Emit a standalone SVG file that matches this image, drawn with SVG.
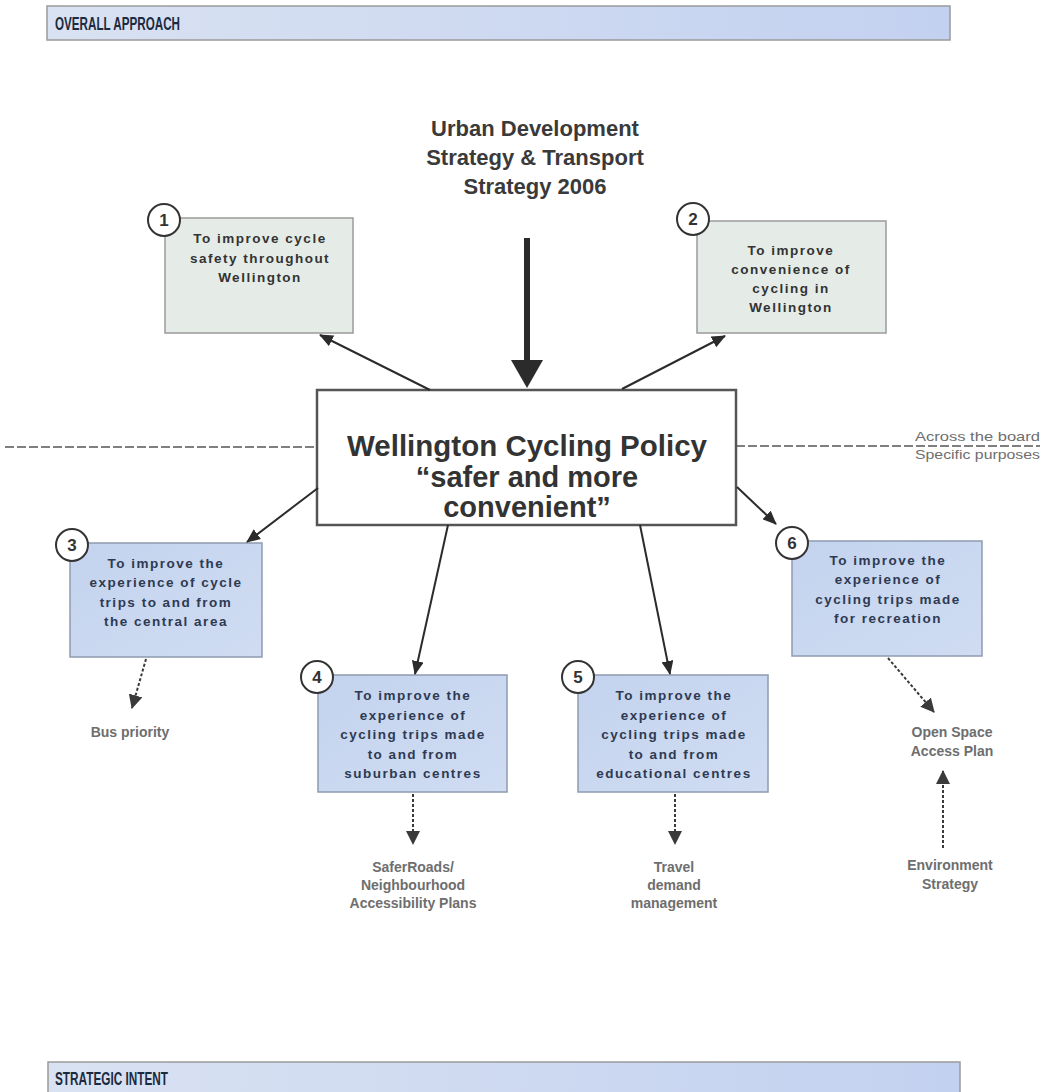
<svg xmlns="http://www.w3.org/2000/svg" width="1046" height="1092" viewBox="0 0 1046 1092">
<defs>
<linearGradient id="hdr" x1="0" y1="0" x2="1" y2="0">
<stop offset="0" stop-color="#d9e2f2"/>
<stop offset="1" stop-color="#c3d1f0"/>
</linearGradient>
<linearGradient id="blue" x1="0" y1="0" x2="1" y2="1">
<stop offset="0" stop-color="#c4d3ee"/>
<stop offset="1" stop-color="#cfdcf2"/>
</linearGradient>
<marker id="ah" viewBox="0 0 14 12" refX="13" refY="6" markerWidth="14" markerHeight="12" markerUnits="userSpaceOnUse" orient="auto">
<path d="M0,0 L14,6 L0,12 z" fill="#2b2b2b"/>
</marker>
<marker id="ahd" viewBox="0 0 14 14" refX="13" refY="7" markerWidth="14" markerHeight="14" markerUnits="userSpaceOnUse" orient="auto">
<path d="M0,0 L14,7 L0,14 z" fill="#3a3a3a"/>
</marker>
</defs>
<style>
.hdr{fill:url(#hdr);stroke:#9a9a9a;stroke-width:1.5}
.hdrt{font-family:"Liberation Sans",Arial,sans-serif;font-weight:bold;font-size:18px;fill:#1c2a40}
.title{font-family:"Liberation Sans",Arial,sans-serif;font-weight:bold;font-size:22px;fill:#3a3a3a;text-anchor:middle}
.main{fill:#ffffff;stroke:#555;stroke-width:2.5}
.maint{font-family:"Liberation Sans",Arial,sans-serif;font-weight:bold;font-size:29px;fill:#333;text-anchor:middle}
.gbox{fill:#e5ece7;stroke:#9a9a9a;stroke-width:1.5}
.bbox{fill:url(#blue);stroke:#8e9bb0;stroke-width:1.5}
.bt{font-family:"Liberation Sans",Arial,sans-serif;font-weight:bold;font-size:13.5px;letter-spacing:1.5px;fill:#333;text-anchor:middle}
.bbt{font-family:"Liberation Sans",Arial,sans-serif;font-weight:bold;font-size:13.5px;letter-spacing:1.5px;fill:#2e3a52;text-anchor:middle}
.num{fill:#fff;stroke:#333;stroke-width:2}
.numt{font-family:"Liberation Sans",Arial,sans-serif;font-weight:bold;font-size:17px;fill:#333;text-anchor:middle}
.lbl{font-family:"Liberation Sans",Arial,sans-serif;font-weight:bold;font-size:14px;fill:#6e6e6e;text-anchor:middle}
.side{font-family:"Liberation Sans",Arial,sans-serif;font-size:13px;fill:#6e6e6e;text-anchor:end}
.conn{stroke:#2b2b2b;stroke-width:2;fill:none}
.dash{stroke:#3a3a3a;stroke-width:2;stroke-dasharray:3 2;fill:none}
.sep{stroke:#555;stroke-width:1.5;stroke-dasharray:9 3;fill:none}
</style>

<g id="header-overall">
<rect class="hdr" x="47" y="6" width="903" height="34"/>
<text class="hdrt" x="55" y="30" textLength="125" lengthAdjust="spacingAndGlyphs">OVERALL APPROACH</text>
</g>

<g id="header-strategic">
<rect class="hdr" x="48" y="1062" width="912" height="32"/>
<text class="hdrt" x="55" y="1085" textLength="113" lengthAdjust="spacingAndGlyphs">STRATEGIC INTENT</text>
</g>

<g id="source">
<text class="title" x="535" y="136">Urban Development</text>
<text class="title" x="535" y="165">Strategy &amp; Transport</text>
<text class="title" x="535" y="194">Strategy 2006</text>
</g>

<g id="policy">
<rect class="main" x="317" y="390" width="419" height="135"/>
<text class="maint" x="527" y="456" textLength="360" lengthAdjust="spacingAndGlyphs">Wellington Cycling Policy</text>
<text class="maint" x="527" y="487">“safer and more</text>
<text class="maint" x="527" y="517">convenient”</text>
</g>

<g id="separator">
<line class="sep" x1="5" y1="447" x2="317" y2="447"/>
<line class="sep" x1="736" y1="446" x2="1040" y2="446"/>
<text class="side" x="1040" y="441" textLength="125" lengthAdjust="spacingAndGlyphs">Across the board</text>
<text class="side" x="1040" y="459" textLength="125" lengthAdjust="spacingAndGlyphs">Specific purposes</text>
</g>

<g id="obj1">
<rect class="gbox" x="165" y="218" width="188" height="115"/>
<text class="bt" x="260" y="243">To improve cycle</text>
<text class="bt" x="260" y="263">safety throughout</text>
<text class="bt" x="260" y="282">Wellington</text>
<circle class="num" cx="164" cy="220" r="16"/>
<text class="numt" x="164" y="226">1</text>
</g>

<g id="obj2">
<rect class="gbox" x="697" y="221" width="189" height="112"/>
<text class="bt" x="791" y="255">To improve</text>
<text class="bt" x="791" y="274">convenience of</text>
<text class="bt" x="791" y="293">cycling in</text>
<text class="bt" x="791" y="312">Wellington</text>
<circle class="num" cx="693" cy="219" r="16"/>
<text class="numt" x="693" y="225">2</text>
</g>

<g id="obj3">
<rect class="bbox" x="70" y="543" width="192" height="114"/>
<text class="bbt" x="166" y="568">To improve the</text>
<text class="bbt" x="166" y="587">experience of cycle</text>
<text class="bbt" x="166" y="607">trips to and from</text>
<text class="bbt" x="166" y="626">the central area</text>
<circle class="num" cx="72" cy="545" r="16"/>
<text class="numt" x="72" y="551">3</text>
</g>

<g id="obj4">
<rect class="bbox" x="318" y="675" width="189" height="117"/>
<text class="bbt" x="413" y="700">To improve the</text>
<text class="bbt" x="413" y="720">experience of</text>
<text class="bbt" x="413" y="739">cycling trips made</text>
<text class="bbt" x="413" y="759">to and from</text>
<text class="bbt" x="413" y="778">suburban centres</text>
<circle class="num" cx="317" cy="677" r="16"/>
<text class="numt" x="317" y="683">4</text>
</g>

<g id="obj5">
<rect class="bbox" x="578" y="675" width="190" height="117"/>
<text class="bbt" x="674" y="700">To improve the</text>
<text class="bbt" x="674" y="720">experience of</text>
<text class="bbt" x="674" y="739">cycling trips made</text>
<text class="bbt" x="674" y="759">to and from</text>
<text class="bbt" x="674" y="778">educational centres</text>
<circle class="num" cx="578" cy="677" r="16"/>
<text class="numt" x="578" y="683">5</text>
</g>

<g id="obj6">
<rect class="bbox" x="792" y="541" width="190" height="115"/>
<text class="bbt" x="888" y="565">To improve the</text>
<text class="bbt" x="888" y="584">experience of</text>
<text class="bbt" x="888" y="604">cycling trips made</text>
<text class="bbt" x="888" y="623">for recreation</text>
<circle class="num" cx="792" cy="543" r="16"/>
<text class="numt" x="792" y="549">6</text>
</g>

<g id="bus-priority">
<text class="lbl" x="130" y="737">Bus priority</text>
</g>
<g id="safer-roads">
<text class="lbl" x="413" y="872">SaferRoads/</text>
<text class="lbl" x="413" y="890">Neighbourhood</text>
<text class="lbl" x="413" y="908">Accessibility Plans</text>
</g>
<g id="travel-demand">
<text class="lbl" x="674" y="872">Travel</text>
<text class="lbl" x="674" y="890">demand</text>
<text class="lbl" x="674" y="908">management</text>
</g>
<g id="open-space">
<text class="lbl" x="952" y="737">Open Space</text>
<text class="lbl" x="952" y="756">Access Plan</text>
</g>
<g id="environment">
<text class="lbl" x="950" y="870">Environment</text>
<text class="lbl" x="950" y="889">Strategy</text>
</g>

<g id="connectors">
<line x1="527" y1="238" x2="527" y2="362" stroke="#2b2b2b" stroke-width="6"/>
<polygon points="511,360 543,360 527,388" fill="#2b2b2b"/>
<line class="conn" x1="430" y1="390" x2="320" y2="335" marker-end="url(#ah)"/>
<line class="conn" x1="622" y1="389" x2="725" y2="336" marker-end="url(#ah)"/>
<line class="conn" x1="318" y1="488" x2="247" y2="542" marker-end="url(#ah)"/>
<line class="conn" x1="448" y1="525" x2="415" y2="674" marker-end="url(#ah)"/>
<line class="conn" x1="640" y1="525" x2="670" y2="674" marker-end="url(#ah)"/>
<line class="conn" x1="737" y1="487" x2="776" y2="524" marker-end="url(#ah)"/>
<line class="dash" x1="146" y1="659" x2="132" y2="708" marker-end="url(#ahd)"/>
<line class="dash" x1="413" y1="794" x2="413" y2="844" marker-end="url(#ahd)"/>
<line class="dash" x1="675" y1="794" x2="675" y2="844" marker-end="url(#ahd)"/>
<line class="dash" x1="888" y1="658" x2="934" y2="712" marker-end="url(#ahd)"/>
<line class="dash" x1="943" y1="848" x2="943" y2="771" marker-end="url(#ahd)"/>
</g>
</svg>
